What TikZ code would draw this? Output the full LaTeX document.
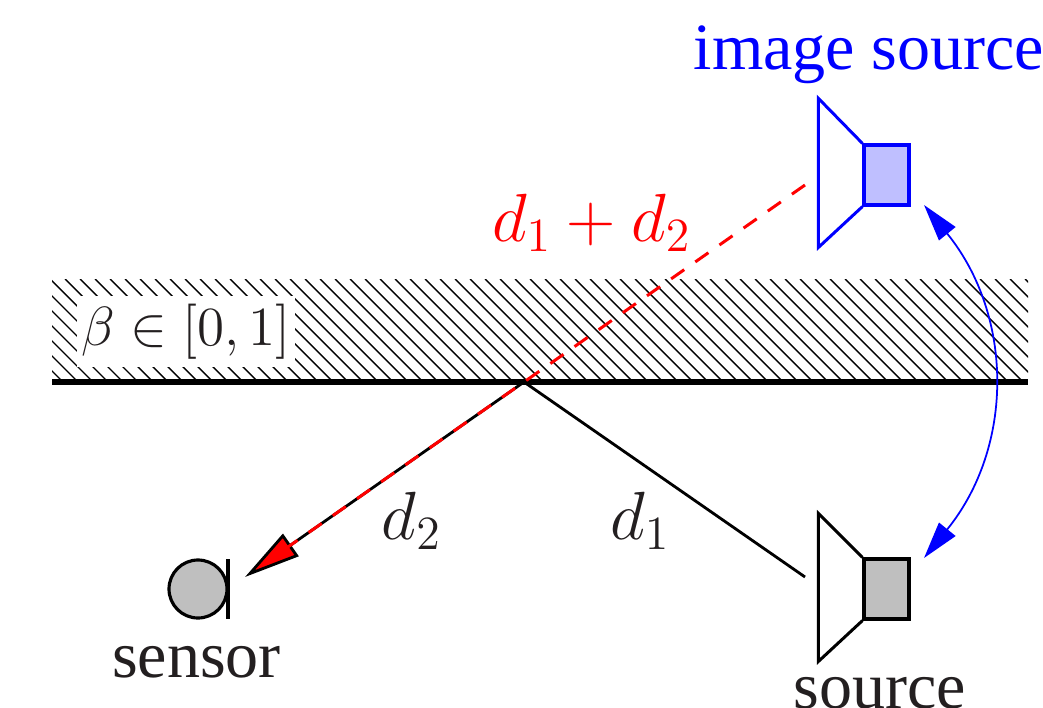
\documentclass[tikz,border=0pt]{standalone}
\usepackage{fix-cm}
\usepackage[no-math]{fontspec}
\setmainfont{Liberation Serif}
\usetikzlibrary{arrows.meta,calc}
\definecolor{InkDark}{HTML}{231F20}
\definecolor{ImgMain}{HTML}{0000FF}
\definecolor{ImgFill}{HTML}{BFBFFF}
\definecolor{SrcFill}{HTML}{BFBFBF}
\definecolor{RayMain}{HTML}{FF0000}
\tikzset{
  cab/.style={rectangle, line width=0.9pt, inner sep=0pt, minimum width=0.45cm, minimum height=0.60cm},
  src/.style={cab, draw=black, fill=SrcFill},
  img/.style={cab, draw=ImgMain, fill=ImgFill},
  cone/.style={line width=0.85pt, line join=miter},
  ttl/.style={font=\fontsize{18.8}{20}\selectfont, text=InkDark, inner sep=0pt},
  mth/.style={font=\fontsize{19.4}{22}\selectfont, text=InkDark, inner sep=0pt},
  ray/.style={line width=0.8pt, draw=black},
  rayD/.style={line width=0.85pt, draw=RayMain, dash pattern=on 0.16cm off 0.135cm},
  link/.style={{Triangle[length=0.37cm,width=0.21cm]}-{Triangle[length=0.37cm,width=0.21cm]}, line width=0.5pt, draw=ImgMain},
}
\begin{document}
\begin{tikzpicture}[x=1cm,y=1cm]
\useasboundingbox (0,0) rectangle (10.43,7.07);
\clip (0,0) rectangle (10.43,7.07);

% ---------------- wall ----------------------------------------------
\begin{scope}
  \clip (0.52,3.25) rectangle (10.28,4.28);
  \foreach \x in {-0.55,-0.40,...,10.30}{
    \draw[line width=0.4pt] (\x,4.28) -- ++(1.03,-1.03);}
\end{scope}
\node[rectangle, fill=white, minimum width=2.18cm, minimum height=0.71cm, inner sep=0pt,
      font=\fontsize{15.7}{18}\selectfont, text=InkDark] (beta) at (1.86,3.755) {$\beta\in[0,1]$};
\coordinate (wallL) at (0.52,3.25);
\coordinate (wallR) at (10.28,3.25);
\draw[line width=1.6pt] (wallL) -- (wallR);

% ---------------- speakers ------------------------------------------
\node[img] (imgBox) at (8.865,5.32) {};
\draw[cone, draw=ImgMain] (imgBox.north west) -- ++(-0.44,0.45) -- ++(0,-1.49) -- (imgBox.south west);
\node[src] (srcBox) at (8.865,1.18) {};
\draw[cone] (srcBox.north west) -- ++(-0.44,0.44) -- ++(0,-1.48) -- (srcBox.south west);

% ---------------- sensor --------------------------------------------
\node[circle, draw=black, fill=SrcFill, line width=0.9pt, minimum size=0.58cm, inner sep=0pt] (sensor) at (1.98,1.18) {};
\coordinate (barT) at (2.28,1.48);
\coordinate (barB) at (2.28,0.88);
\draw[line width=0.9pt] (barT) -- (barB);

% ---------------- rays ----------------------------------------------
\coordinate (apex) at (5.24,3.25);
\coordinate (micEnd) at (2.45,1.30);
\coordinate (srcEnd) at (8.05,1.30);
\coordinate (imgEnd) at (8.05,5.22);
\draw[ray] (srcEnd) -- (apex);
\draw[ray, -{Triangle[length=0.56cm,width=0.27cm,fill=RayMain]}] (apex) -- (micEnd);
\draw[rayD, shorten >=0.5cm] (imgEnd) -- (apex) -- (micEnd);

% ---------------- image link ----------------------------------------
\coordinate (imgTip) at (9.24,5.02);
\coordinate (srcTip) at (9.24,1.49);
\draw[link] (imgTip) .. controls (10.14,3.91) and (10.14,2.60) .. (srcTip);

% ---------------- labels --------------------------------------------
\node[ttl, text=ImgMain, anchor=base] (imgLbl) at (8.69,6.37) {image source};
\node[ttl, anchor=base] (senLbl) at (1.965,0.30) {sensor};
\node[ttl, anchor=base] (srcLbl) at (8.80,-0.01) {source};
\node[mth, text=RayMain] (sumLbl) at (5.915,4.84) {$d_1+d_2$};
\node[mth] (dTwo) at (4.115,1.86) {$d_2$};
\node[mth] (dOne) at (6.40,1.86) {$d_1$};
\end{tikzpicture}
\end{document}
